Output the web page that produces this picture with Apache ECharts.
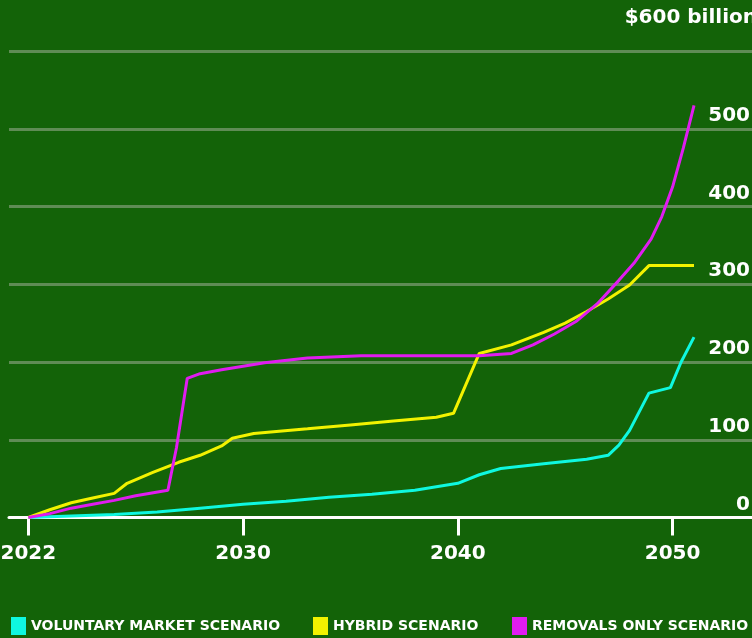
<!DOCTYPE html>
<html>
<head>
<meta charset="utf-8">
<script src="https://cdn.jsdelivr.net/npm/echarts@6/dist/echarts.min.js"></script>
<style>
  html, body { margin: 0; padding: 0; background: #136308; }
  #chart { width: 752px; height: 638px; }
</style>
</head>
<body>
<div id="chart"></div>
<script>
  // x positions are on the chart's own year scale; the first tick is labelled 2022
  const xTickPositions = [2020, 2030, 2040, 2050];
  const xTickLabels = ['2022', '2030', '2040', '2050'];
  const yTicks = [0, 100, 200, 300, 400, 500, 600];

  const voluntaryYears = [2020, 2022, 2024, 2026, 2028, 2030, 2032, 2034, 2036, 2038, 2040, 2041, 2042, 2044, 2046, 2047, 2047.5, 2048, 2048.9, 2049.9, 2050.4, 2051];
  const voluntaryValues = [0, 2, 4, 7, 12, 17, 21, 26, 30, 35, 44, 55, 63, 69, 75, 80, 93, 112, 160, 167, 200, 232];

  const hybridYears = [2020, 2021, 2022, 2023, 2024, 2024.6, 2025.8, 2027, 2028, 2029, 2029.5, 2030.5, 2033, 2035, 2037, 2039, 2039.8, 2041, 2042.5, 2044, 2045, 2046, 2047, 2048, 2048.9, 2051];
  const hybridValues = [0, 10, 19, 25, 31, 44, 58, 71, 80, 92, 102, 108, 114, 119, 124, 129, 134, 211, 222, 238, 250, 265, 281, 299, 324, 324];

  const removalsYears = [2020, 2021, 2022, 2023, 2024, 2025, 2026.5, 2026.9, 2027.4, 2028, 2029, 2031, 2033, 2035.5, 2041, 2042.5, 2043.5, 2044.5, 2045.5, 2046.5, 2047.5, 2048.2, 2049, 2049.5, 2050, 2050.5, 2051];
  const removalsValues = [0, 5, 12, 17, 22, 28, 35, 90, 179, 185, 190, 199, 205, 208, 208, 211, 222, 236, 252, 275, 305, 327, 358, 387, 425, 475, 530];

  const seriesNames = ['VOLUNTARY MARKET SCENARIO', 'HYBRID SCENARIO', 'REMOVALS ONLY SCENARIO'];
  const seriesColors = ['#0ff8e0', '#f2f200', '#e01cf0'];

  const pairs = (xs, ys) => xs.map((x, i) => [x, ys[i]]);
  const font = 'DejaVu Sans';

  const legendBase = {
    top: 617,
    padding: 0,
    icon: 'rect',
    itemWidth: 15,
    itemHeight: 18,
    selectedMode: false,
    textStyle: { color: '#ffffff', fontFamily: font, fontWeight: 'bold', fontSize: 14 },
  };

  const chart = echarts.init(document.getElementById('chart'));
  chart.setOption({
    backgroundColor: '#136308',
    animation: false,
    legend: [
      Object.assign({ left: 11, data: [seriesNames[0]] }, legendBase),
      Object.assign({ left: 313, data: [seriesNames[1]] }, legendBase),
      Object.assign({ left: 512, data: [seriesNames[2]] }, legendBase),
    ],
    grid: { left: 9, right: 0, top: 51, bottom: 120.5, outerBoundsMode: 'none', containLabel: false },
    xAxis: {
      type: 'value',
      min: 2019.1,
      max: 2053.7,
      splitLine: { show: false },
      axisLine: { lineStyle: { color: '#ffffff', width: 3 } },
      axisTick: {
        customValues: xTickPositions,
        length: 18,
        lineStyle: { color: '#ffffff', width: 3 },
      },
      axisLabel: {
        customValues: xTickPositions,
        margin: 26,
        color: '#ffffff',
        fontFamily: font,
        fontWeight: 'bold',
        fontSize: 20,
        formatter: (v) => xTickLabels[xTickPositions.indexOf(v)],
      },
    },
    yAxis: {
      type: 'value',
      position: 'right',
      min: yTicks[0],
      max: yTicks[yTicks.length - 1],
      interval: 100,
      axisLine: { show: false },
      axisTick: { show: false },
      splitLine: { lineStyle: { color: '#5f8c55', width: 3 } },
      axisLabel: {
        inside: true,
        margin: 2,
        align: 'right',
        verticalAlign: 'bottom',
        lineHeight: 26,
        color: '#ffffff',
        fontFamily: font,
        fontWeight: 'bold',
        fontSize: 20,
        formatter: (v) => (v === 600 ? '{top|$600 billion}' : String(v)),
        rich: {
          top: {
            color: '#ffffff',
            fontFamily: font,
            fontWeight: 'bold',
            fontSize: 20,
            lineHeight: 66,
            padding: [0, -7, 0, 0],
          },
        },
      },
    },
    series: [
      { name: seriesNames[0], data: pairs(voluntaryYears, voluntaryValues) },
      { name: seriesNames[1], data: pairs(hybridYears, hybridValues) },
      { name: seriesNames[2], data: pairs(removalsYears, removalsValues) },
    ].map((s, i) => Object.assign(s, {
      type: 'line',
      showSymbol: false,
      color: seriesColors[i],
      lineStyle: { color: seriesColors[i], width: 3 },
    })),
  });
</script>
</body>
</html>
